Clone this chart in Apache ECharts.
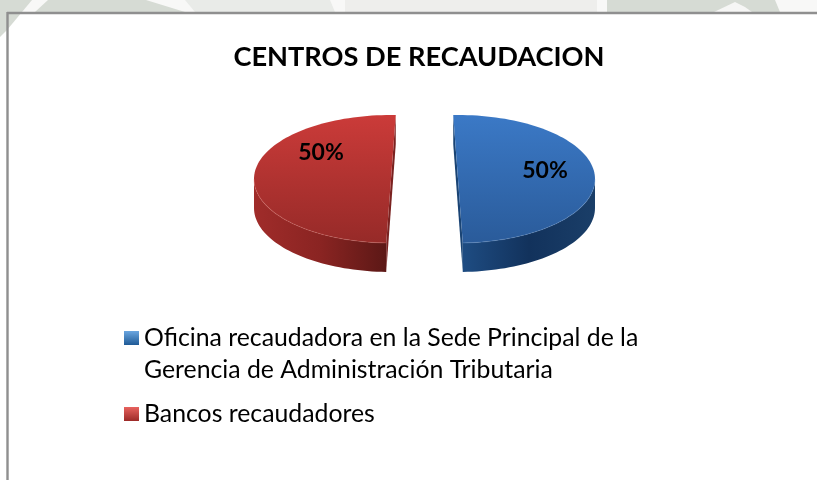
<!DOCTYPE html>
<html>
<head>
<meta charset="utf-8">
<style>html,body{margin:0;padding:0;background:#fff}#c{width:817px;height:480px}</style>
<script src="https://cdn.jsdelivr.net/npm/echarts@6/dist/echarts.min.js"></script>
</head>
<body>
<div id="c"></div>
<script>
const chartTitle = "CENTROS DE RECAUDACION";
const categories = ["Oficina recaudadora en la Sede Principal de la\nGerencia de Administración Tributaria", "Bancos recaudadores"];
const values = [50, 50];

const FONT = 'Lato, "Open Sans", sans-serif';
const G = (x0, y0, x1, y1, stops) => new echarts.graphic.LinearGradient(x0, y0, x1, y1,
  stops.map((c, i) => ({offset: i / (stops.length - 1), color: c})));

const looks = [
  {cx: 458, cy: 179, rx: 137, ry: 64, depth: 29, start: -92, lx: 545, ly: 171,
   top: ['#3b79c6', '#2a5b9a'], wall: ['#1e4c82', '#12325c', '#1a3e68'], cut: '#1a4474', rim: 'rgba(120,165,220,0.22)',
   key: ['#6aa6e0', '#1f5a96']},
  {cx: 391, cy: 179, rx: 137, ry: 64, depth: 29, start: 92, lx: 321, ly: 153,
   top: ['#cb3b39', '#962a28'], wall: ['#a02c2a', '#8a2422', '#5c1816'], cut: '#7a2220', rim: 'rgba(235,130,125,0.22)',
   key: ['#e8625e', '#9c2a28']}
];
const total = values.reduce((a, b) => a + b, 0);

function arc(l, a, b, dy) {
  const pts = [], n = Math.max(2, Math.ceil(Math.abs(b - a) / 2));
  for (let i = 0; i <= n; i++) {
    const t = (a + (b - a) * i / n) * Math.PI / 180;
    pts.push([l.cx + l.rx * Math.cos(t), l.cy + l.ry * Math.sin(t) + (dy || 0)]);
  }
  return pts;
}

function sliceRender(idx) {
  return function () {
    const l = looks[idx];
    const sweep = values[idx] / total * 360;
    const a = l.start, b = l.start + sweep;
    const children = [];
    const p0 = arc(l, a, a, 0)[0], p1 = arc(l, b, b, 0)[0];
    children.push({type: 'polygon', silent: true, shape: {points: [p0, p1, [p1[0], p1[1] + l.depth], [p0[0], p0[1] + l.depth]]},
      style: {fill: l.cut}});
    const wa = Math.max(a, 0), wb = Math.min(b, 180);
    const upper = arc(l, wa, wb, 0), lower = arc(l, wa, wb, l.depth).reverse();
    children.push({type: 'polygon', silent: true, shape: {points: upper.concat(lower)},
      style: {fill: G(0, 0, 1, 0, l.wall)}});
    children.push({type: 'polygon', silent: true, shape: {points: arc(l, a, b, 0)},
      style: {fill: G(0, 0, 0, 1, l.top)}});
    children.push({type: 'polyline', silent: true, shape: {points: upper},
      style: {fill: null, stroke: l.rim, lineWidth: 1.2}});
    children.push({type: 'text', silent: true, style: {
      text: Math.round(values[idx] / total * 100) + '%', x: l.lx, y: l.ly,
      align: 'center', verticalAlign: 'middle', fill: '#000', font: 'bold 23px ' + FONT}});
    return {type: 'group', children};
  };
}

const wm = '#d6dbd4', wmLight = '#eeeeec';
const strip = (pts, fill) => ({type: 'polygon', silent: true, z: 0, shape: {points: pts}, style: {fill}});
const graphics = [
  strip([[0,0],[817,0],[817,12],[0,12]], '#f8f8f7'),
  strip([[0,0],[32,0],[7,30],[0,37]], wm),
  strip([[48,0],[146,0],[185,12],[35,12]], wm),
  strip([[185,0],[330,0],[335,12],[195,12]], '#e9ebe8'),
  strip([[345,0],[597,0],[597,12],[345,12]], wmLight),
  strip([[607,0],[775,0],[780,12],[607,12]], wm),
  strip([[735,2],[745,7],[752,12],[714,12]], '#f6f6f5'),
  {type: 'line', silent: true, z: 2, shape: {x1: 7, y1: 13, x2: 817, y2: 13}, style: {stroke: '#8f8f8f', lineWidth: 2.4}},
  {type: 'line', silent: true, z: 2, shape: {x1: 7.5, y1: 12, x2: 7.5, y2: 480}, style: {stroke: '#8f8f8f', lineWidth: 2.4}}
];

const LINE = 32;
const chart = echarts.init(document.getElementById('c'), null, {renderer: 'canvas'});
chart.setOption({
  animation: false,
  backgroundColor: '#fff',
  title: {text: chartTitle, left: 419, top: 44, padding: 0, textAlign: 'center',
    textStyle: {fontFamily: FONT, fontWeight: 'bold', fontSize: 27.2, color: '#000'}},
  legend: {
    orient: 'vertical', left: 124, top: 338 - LINE * 1.5, padding: 0, itemGap: 12, itemWidth: 15, itemHeight: 14,
    selectedMode: false, icon: 'rect',
    formatter: name => name.includes('\n') ? '\n' + name : name,
    textStyle: {fontFamily: FONT, fontSize: 24.8, color: '#000', lineHeight: LINE},
    data: categories.map((name, i) => ({
      name,
      itemStyle: {color: G(0, 0, 0, 1, looks[i].key)}
    }))
  },
  graphic: graphics,
  series: categories.map((name, i) => ({
    type: 'custom', name, coordinateSystem: 'none', silent: true, clip: false,
    itemStyle: {color: looks[i].top[0]},
    renderItem: sliceRender(i), data: [values[i]]
  }))
});
</script>
</body>
</html>
